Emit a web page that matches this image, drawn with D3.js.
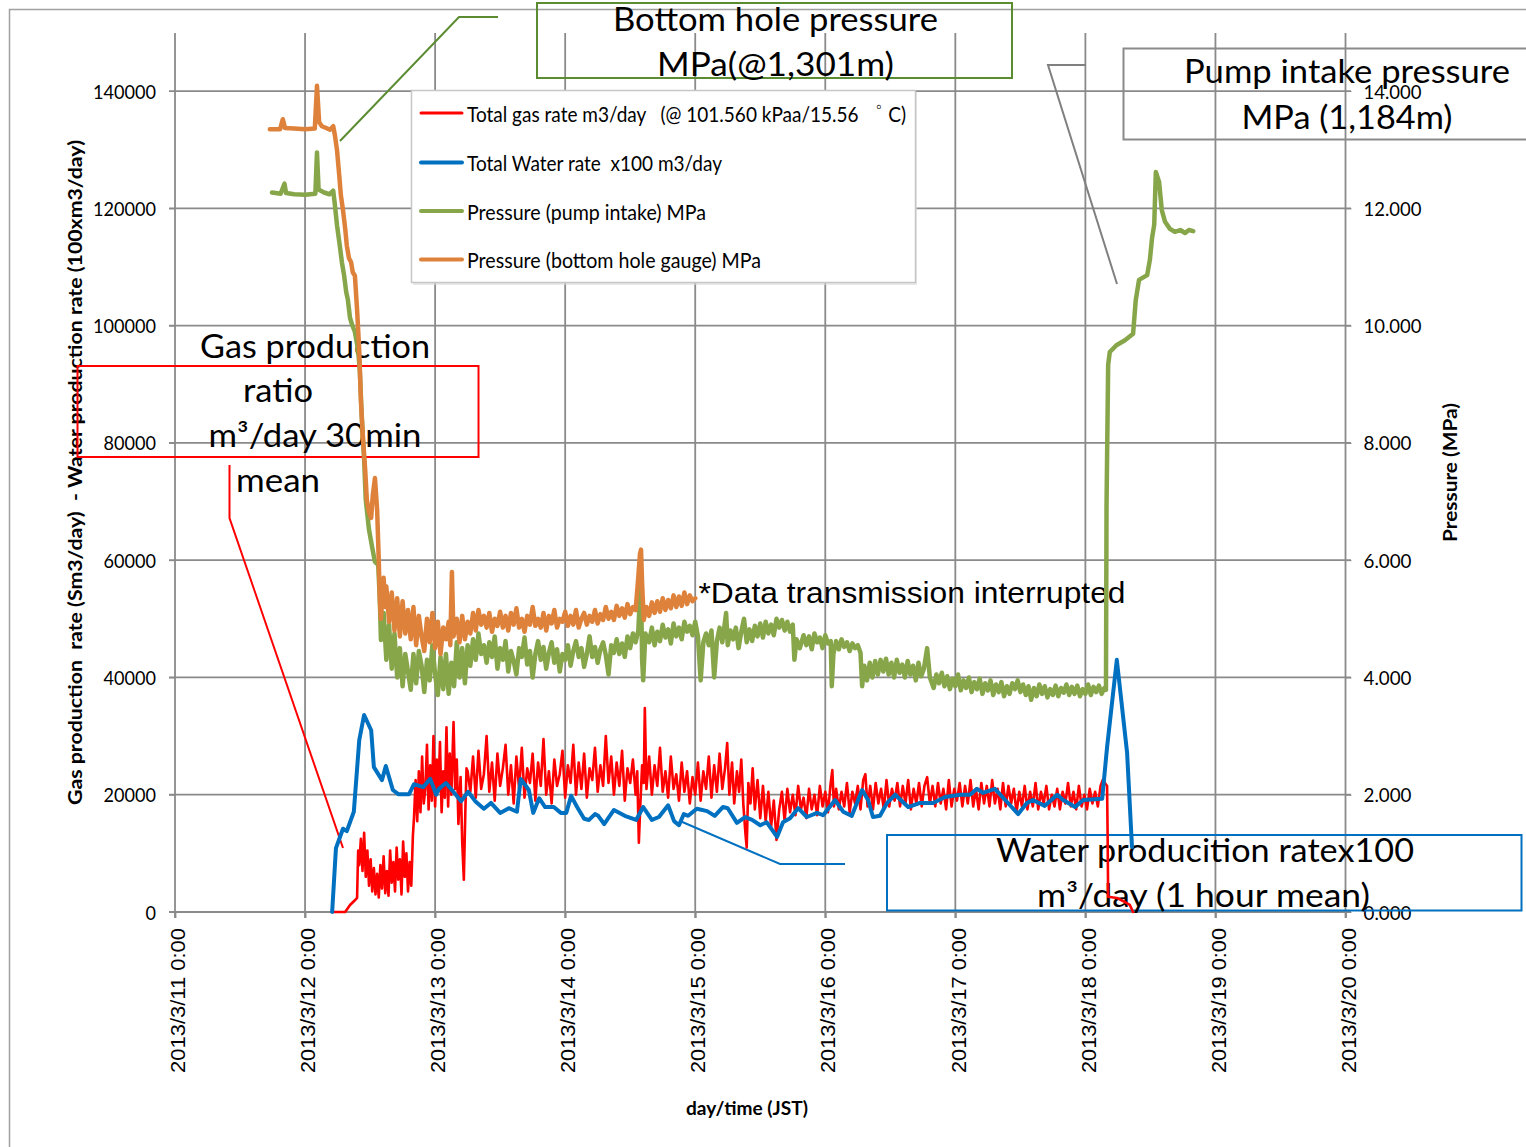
<!DOCTYPE html>
<html><head><meta charset="utf-8">
<script src="https://cdn.jsdelivr.net/npm/d3@7"></script>
<style>body{margin:0;background:#fff}svg{display:block}text{white-space:pre}</style>
</head><body>
<svg id="c" width="1526" height="1147"></svg>
<script>
// ---------- DATA ----------
const dayTickLabels = ["2013/3/11 0:00","2013/3/12 0:00","2013/3/13 0:00","2013/3/14 0:00","2013/3/15 0:00",
  "2013/3/16 0:00","2013/3/17 0:00","2013/3/18 0:00","2013/3/19 0:00","2013/3/20 0:00"];
const dayTickHours = [0,24,48,72,96,120,144,168,192,216];   // hours since 2013/3/11 0:00
const leftTicks = [0,20000,40000,60000,80000,100000,120000,140000];
const rightTicks = [0,2,4,6,8,10,12,14];

const seriesNames = [
  "Total gas rate m3/day   (@ 101.560 kPaa/15.56 \u309C C)",
  "Total Water rate  x100 m3/day",
  "Pressure (pump intake) MPa",
  "Pressure (bottom hole gauge) MPa"
];

// [hours since 3/11 0:00, m3/day]
const gasRate = [
[29.0,0],[31.4,0],[32.3,1200],[33.2,2000],[33.6,2400],[33.8,10500],
[34.0,8000],[34.3,12500],[34.6,7000],[34.9,13500],[35.2,6000],[35.5,10500],[35.8,4500],[36.1,9000],[36.4,3500],[36.7,7500],
[37.0,3000],[37.3,6500],[37.6,2500],[37.9,8000],[38.2,4000],[38.5,9500],[38.8,3200],[39.1,7000],[39.4,2800],[39.7,10500],
[40.0,5000],[40.3,8500],[40.6,3500],[40.9,11000],[41.2,5500],[41.5,9000],[41.8,3000],[42.1,12000],[42.4,6000],[42.7,10000],
[43.0,3500],[43.3,8500],[43.6,4500],[43.9,13000],
[44.1,16000],[44.4,22500],[44.7,15500],[45.0,24000],[45.3,17000],[45.6,26500],[45.9,18500],[46.2,21000],[46.5,28500],[46.8,17500],
[47.1,25000],[47.4,19000],[47.7,30000],[48.0,18000],[48.3,26000],[48.6,20500],[48.9,29000],[49.2,17000],[49.5,24000],[49.8,19500],
[50.1,31500],[50.4,18000],[50.7,27000],[51.0,20000],[51.4,32400],[51.7,21000],[52.0,26000],[52.3,15000],[52.7,23000],[53.0,12000],
[53.3,5500],[53.6,18000],[53.8,24500],
[54.0,24000],[54.5,20500],[55.0,26500],[55.5,19500],[56.0,27500],[56.5,21000],[57.0,23500],[57.5,30000],[58.0,20500],[58.5,25500],
[59.0,19000],[59.5,27000],[60.0,21500],[60.5,24500],[61.0,28500],[61.5,20000],[62.0,25000],[62.5,18500],[63.0,26500],[63.5,21000],
[64.0,28000],[64.5,19500],[65.0,24500],[65.5,22000],[66.0,27000],[66.5,19000],[67.0,25500],[67.5,21500],[68.0,29500],[68.5,20000],
[69.0,24000],[69.5,18500],[70.0,26000],[70.5,21500],[71.0,23500],[71.5,27500],[72.0,19500],[72.5,25000],[73.0,22000],[73.5,28500],
[74.0,20000],[74.5,25500],[75.0,21000],[75.5,27000],[76.0,19500],[76.5,24500],[77.0,22500],[77.5,28000],[78.0,20500],[78.5,25000],
[79.0,21500],[79.5,30000],[80.0,22000],[80.5,26500],[81.0,20000],[81.5,25500],[82.0,21500],[82.5,27500],[83.0,19000],[83.5,24500],
[84.0,22000],[84.5,26000],[85.0,20000],[85.3,24000],[85.6,11800],[85.9,19000],[86.2,25000],[86.5,22000],[86.7,34800],[87.0,21000],
[87.5,26500],[88.0,20000],[88.5,25000],[89.0,21500],[89.5,28000],[90.0,20500],[90.5,24000],[91.0,19500],[91.5,26500],[92.0,21000],
[92.5,23500],[93.0,19000],[93.5,25500],[94.0,20500],[94.5,24000],[95.0,18500],[95.5,23000],[96.0,20000],[96.5,25500],[97.0,19000],
[97.5,24000],[98.0,21000],[98.5,26500],[99.0,19500],[99.5,25000],[100.0,20500],[100.5,27000],[101.0,21000],[101.5,24500],[101.9,28800],
[102.3,20000],[102.8,25500],[103.2,18500],[103.7,24000],[104.1,20500],[104.5,26000],[104.9,18000],[105.3,13000],[105.5,11000],[105.8,22000],
[106.2,18500],[106.6,24500],[107.0,17500],[107.5,22500],[108.0,16000],[108.5,21500],[109.0,15500],[109.5,20500],[110.0,14500],[110.5,19000],
[111.0,12300],[111.5,17500],[112.0,20500],[112.5,15500],[113.0,21000],[113.5,17000],[114.0,20000],[114.5,16500],[115.0,21500],[115.5,17500],
[116.0,19500],[116.5,16000],[117.0,21000],[117.5,17500],[118.0,20000],[118.5,16500],[119.0,21500],[119.5,18000],[120.0,20500],[120.5,17000],
[121.0,22000],[121.3,24200],[121.6,18000],[122.0,21000],[122.5,17500],[123.0,20500],[123.5,18000],[124.0,22000],[124.5,17000],[125.0,20500],
[125.5,18500],[126.0,21500],[126.5,17500],[127.0,22500],[127.4,23500],[127.8,18000],[128.3,21500],[128.8,17500],[129.3,22000],[129.8,18500],
[130.3,21000],[130.8,17500],[131.3,22500],[131.8,18000],[132.3,21000],[132.8,19000],[133.3,22000],[133.8,18000],[134.3,21500],[134.8,18500],
[135.3,22500],[135.8,17500],[136.3,21000],[136.8,18500],[137.3,22000],[137.8,18000],[138.3,21500],[138.8,23000],[139.3,18500],[139.8,21500],
[140.3,18000],[140.8,22000],[141.3,18500],[141.8,21000],[142.3,17500],[142.8,22500],[143.3,18000],[143.8,21000],[144.3,19000],[144.8,22000],
[145.3,18000],[145.8,21500],[146.3,18500],[146.8,22500],[147.3,18000],[147.8,21000],[148.3,17500],[148.8,22000],[149.3,18500],[149.8,21500],
[150.3,18000],[150.8,22500],[151.3,18500],[151.8,21000],[152.3,17500],[152.8,22000],[153.3,18000],[153.8,21500],[154.3,18500],[154.8,21000],
[155.3,17000],[155.8,20500],[156.3,18000],[156.8,21500],[157.3,17500],[157.8,20500],[158.3,18000],[158.8,22000],[159.3,17500],[159.8,20500],
[160.3,18500],[160.8,21500],[161.3,17500],[161.8,20000],[162.3,18000],[162.8,21000],[163.3,17500],[163.8,20500],[164.3,18500],[164.8,22000],
[165.3,18000],[165.8,20500],[166.3,17500],[166.8,21500],[167.3,18000],[167.8,20000],[168.3,17500],[168.8,21000],[169.3,18500],[169.8,20500],
[170.3,18000],[170.8,21500],[171.2,22500],[172.0,21500],[172.1,13500],[172.2,2600],[173.8,2400],[175.3,1700],[176.2,1200],[176.8,0]
];

// [hours, x100 m3/day]
const waterRate = [
[29.0,0],[29.7,10900],[31.0,14200],[31.7,13800],[33.0,17100],[34.0,29300],[34.9,33600],[36.2,31000],[36.7,24700],[38.2,22500],
[38.9,24900],[40.2,20800],[41.2,20100],[43.2,20100],[44.1,21800],[45.8,21300],[47.1,22700],[48.2,20000],[48.7,21000],[50.0,22000],
[51.1,20800],[52.8,18900],[54.1,20500],[55.4,18900],[57.0,17600],[58.3,18600],[60.0,16900],[61.6,17700],[63.1,17100],[63.8,22700],
[65.3,20800],[66.1,16900],[67.2,19400],[68.3,17900],[69.9,17900],[71.2,16900],[72.2,16900],[73.1,19800],[74.2,17900],[75.5,15900],
[76.4,15700],[77.5,16700],[78.1,16400],[79.2,15000],[81.0,17400],[83.0,16400],[85.1,15700],[86.4,17900],[88.0,15700],[89.3,16200],
[91.0,18200],[92.1,15500],[93.0,14800],[93.9,16700],[94.7,16400],[96.0,17400],[96.3,17600],[98.2,17200],[99.6,16400],[101.1,17900],
[102.0,17700],[103.7,15200],[105.2,16200],[106.5,15700],[108.0,14800],[109.2,15300],[111.1,12800],[112.2,15300],[113.5,16000],[115.0,17700],
[116.6,16200],[118.5,16900],[119.6,16500],[121.8,19100],[123.3,17100],[124.9,16400],[126.8,20800],[127.9,19100],[128.8,16200],[130.1,16400],
[131.4,18600],[132.9,20000],[135.3,17900],[137.5,18600],[139.9,18600],[142.1,19600],[144.9,20000],[146.7,20000],[148.0,21000],[149.1,20300],
[151.3,21000],[153.2,19100],[155.6,16700],[157.2,18600],[158.3,19100],[160.5,18100],[162.8,20000],[163.9,19100],[166.1,17900],[167.6,19100],
[171.1,19300],[172.0,28100],[173.8,43000],[175.7,27100],[176.6,11100]
];

// [hours, MPa]
const pumpIntake = [
[17.9,12.27],[19.5,12.25],[20.2,12.42],[20.5,12.26],[22.0,12.24],[24.0,12.23],[25.9,12.25],[26.2,12.95],[26.5,12.32],[27.5,12.27],[28.5,12.24],[29.2,12.30],
[29.5,12.06],[29.9,11.71],[30.4,11.37],[30.8,11.08],[31.2,10.86],[31.6,10.57],[31.9,10.44],[32.3,10.13],[32.7,10.01],[33.2,9.89],[33.8,9.58],[34.1,9.24],
[34.5,8.39],[34.9,7.71],[35.2,7.03],[35.8,6.52],[36.4,6.21],[36.9,5.97],[37.5,5.92],[37.8,5.32],
[38.0,4.64],[38.5,5.10],[39.0,4.30],[39.5,4.90],[40.0,4.15],[40.5,4.75],[41.0,4.00],[41.5,4.50],[42.0,3.85],[42.5,4.40],[43.0,4.10],[43.5,3.79],
[44.0,4.40],[44.5,3.90],[45.0,4.45],[45.5,4.20],[46.0,3.75],[46.5,4.30],[47.0,3.95],[47.5,4.55],[48.0,4.05],[48.5,3.70],[49.0,4.35],[49.5,3.80],
[50.0,4.40],[50.5,3.72],[51.0,4.25],[51.5,3.85],[52.0,4.60],[52.5,4.00],[53.0,4.50],[53.5,3.90],[54.0,4.55],[54.5,4.20],[55.0,4.65],[55.5,4.30],
[56.0,4.75],[56.5,4.40],[57.0,4.55],[57.5,4.25],[58.0,4.60],[58.5,4.35],[59.0,4.70],[59.5,4.15],[60.0,4.50],[60.5,4.30],[61.0,4.62],[61.5,4.10],
[62.0,4.45],[62.5,4.28],[63.0,4.05],[63.5,4.50],[64.0,4.35],[64.5,4.68],[65.0,4.22],[65.5,4.45],[66.0,4.00],[66.5,4.40],[67.0,4.62],[67.5,4.30],
[68.0,4.52],[68.5,4.15],[69.0,4.42],[69.5,4.60],[70.0,4.25],[70.5,4.48],[71.0,4.10],[71.5,4.40],[72.0,4.30],[72.5,4.55],[73.0,4.20],[73.5,4.45],
[74.0,4.62],[74.5,4.35],[75.0,4.50],[75.5,4.18],[76.0,4.40],[76.5,4.70],[77.0,4.35],[77.5,4.52],[78.0,4.25],[78.5,4.48],[79.0,4.60],[79.5,4.38],
[80.0,4.05],[80.5,4.55],[81.0,4.42],[81.5,4.65],[82.0,4.40],[82.5,4.58],[83.0,4.35],[83.5,4.70],[84.0,4.50],[84.5,4.75],[85.0,4.60],[85.5,4.80],
[85.8,5.40],[86.0,5.55],[86.2,4.30],[86.4,3.95],[86.8,4.75],[87.5,4.60],[88.0,4.85],[88.5,4.55],[89.0,4.78],[89.5,4.62],[90.0,4.90],[90.5,4.68],
[91.0,4.82],[91.5,4.58],[92.0,4.92],[92.5,4.70],[93.0,4.85],[93.5,4.65],[94.0,4.95],[94.5,4.78],[95.0,4.88],[95.5,4.72],[96.0,4.95],
[96.5,4.70],[97.0,3.95],[97.5,4.60],[98.0,4.75],[98.5,4.55],[99.0,4.80],[99.5,4.00],[100.0,4.62],[100.5,4.85],[101.0,4.60],[101.7,5.10],[102.0,4.55],
[102.5,4.80],[103.0,4.65],[103.5,4.85],[104.0,4.50],[104.5,4.78],[105.0,5.00],[105.5,4.60],[106.0,4.82],[106.5,4.62],[107.0,4.88],[107.5,4.70],
[108.0,4.92],[108.5,4.68],[109.0,4.95],[109.5,4.75],[110.0,4.90],[110.5,4.72],[111.0,5.00],[111.5,4.85],[112.0,4.98],[112.5,4.80],[113.0,4.95],
[113.5,4.78],[114.0,4.90],[114.3,4.30],[114.7,4.65],[115.3,4.50],[116.0,4.72],[116.5,4.55],[117.0,4.70],[117.5,4.48],[118.0,4.75],[118.5,4.60],
[119.0,4.68],[119.5,4.50],[120.0,4.72],[120.5,4.58],[121.0,4.62],[121.2,3.85],[121.5,4.40],[122.0,4.62],[122.5,4.48],[123.0,4.65],[123.5,4.52],
[124.0,4.60],[124.5,4.45],[125.0,4.58],[125.5,4.50],[126.0,4.55],[126.5,4.42],[126.8,3.85],[127.2,4.20],[127.7,3.95],[128.2,4.25],[128.7,4.00],
[129.2,4.28],[129.7,4.05],[130.2,4.30],[130.7,4.10],[131.2,4.32],[131.7,4.05],[132.2,4.25],[132.7,4.00],[133.2,4.30],[133.7,4.08],[134.2,4.22],
[134.7,4.00],[135.2,4.28],[135.7,4.05],[136.2,4.20],[136.7,3.95],[137.2,4.25],[137.7,4.02],[138.2,4.15],[138.8,4.50],[139.3,4.00],[140.0,3.82],
[140.5,4.05],[141.0,3.90],[141.5,4.08],[142.0,3.85],[142.5,4.02],[143.0,3.80],[143.5,3.98],[144.0,3.85],[144.5,4.05],[145.0,3.78],[145.5,3.95],
[146.0,3.82],[146.5,4.00],[147.0,3.75],[147.5,3.92],[148.0,3.80],[148.5,3.98],[149.0,3.72],[149.5,3.90],[150.0,3.78],[150.5,3.95],[151.0,3.70],
[151.5,3.88],[152.0,3.75],[152.5,3.92],[153.0,3.68],[153.5,3.85],[154.0,3.72],[154.5,3.90],[155.0,3.80],[155.5,3.95],[156.0,3.75],[156.5,3.88],
[157.0,3.70],[157.5,3.85],[158.0,3.62],[158.5,3.82],[159.0,3.68],[159.5,3.88],[160.0,3.72],[160.5,3.85],[161.0,3.66],[161.5,3.80],[162.0,3.70],
[162.5,3.86],[163.0,3.68],[163.5,3.82],[164.0,3.74],[164.5,3.88],[165.0,3.70],[165.5,3.84],[166.0,3.72],[166.5,3.86],[167.0,3.68],[167.5,3.80],
[168.0,3.72],[168.5,3.88],[169.0,3.70],[169.5,3.84],[170.0,3.75],[170.5,3.86],[171.0,3.72],[171.5,3.82],[171.8,3.79],
[171.9,6.91],[172.2,9.33],[172.5,9.55],[173.8,9.67],[175.3,9.75],[176.8,9.86],[177.3,10.44],[177.9,10.78],[179.4,10.86],[179.9,11.12],
[180.3,11.49],[180.7,11.72],[181.0,12.62],[181.6,12.45],[182.1,11.97],[182.7,11.77],[183.6,11.65],[184.5,11.60],[185.5,11.63],[186.4,11.58],
[187.1,11.63],[187.9,11.61]
];

// [hours, MPa]
const bottomHole = [
[17.5,13.35],[19.4,13.35],[19.9,13.52],[20.3,13.37],[22.0,13.36],[24.0,13.35],[25.8,13.36],[26.2,14.09],[26.6,13.47],[27.1,13.40],[27.9,13.37],
[28.6,13.34],[29.2,13.40],
[29.5,13.25],[29.9,12.99],[30.3,12.57],[30.6,12.23],[31.0,11.97],[31.4,11.66],[31.7,11.37],[32.1,11.15],[32.5,11.08],[32.8,10.91],[33.2,10.85],
[33.6,10.27],[34.0,9.58],[34.3,8.73],[34.7,8.05],[35.1,7.54],[35.4,7.03],[35.8,6.82],[36.2,6.72],[36.5,7.11],[36.9,7.40],[37.3,6.86],[37.6,6.00],[37.8,5.32],
[38.0,5.00],[38.5,5.70],[38.8,5.20],[39.0,5.55],[39.5,4.95],[40.0,5.45],[40.5,4.80],[41.0,5.35],[41.5,4.70],[42.0,5.30],[42.5,4.75],[43.0,5.15],
[43.5,4.65],[44.0,5.20],[44.5,4.55],[45.0,5.05],[45.5,4.70],[46.0,4.45],[46.5,5.00],[47.0,4.60],[47.5,5.10],[48.0,4.50],[48.5,4.95],[49.0,4.40],
[49.5,4.85],[50.0,4.65],[50.5,4.95],[50.8,4.55],[51.1,5.80],[51.4,4.70],[52.0,5.00],[52.5,4.60],[53.0,5.05],[53.5,4.65],[54.0,4.95],[54.5,4.75],
[55.0,5.10],[55.5,4.80],[56.0,5.15],[56.5,4.90],[57.0,5.05],[57.5,4.85],[58.0,5.10],[58.5,4.78],[59.0,5.00],[59.5,4.88],[60.0,5.12],[60.5,4.85],
[61.0,5.05],[61.5,4.80],[62.0,5.10],[62.5,4.90],[63.0,5.18],[63.5,4.85],[64.0,5.00],[64.5,4.78],[65.0,5.05],[65.5,4.90],[66.0,5.20],[66.5,4.88],
[67.0,5.00],[67.5,4.85],[68.0,5.10],[68.5,4.80],[69.0,5.05],[69.5,4.92],[70.0,5.15],[70.5,4.85],[71.0,5.00],[71.5,4.95],[72.0,5.12],[72.5,4.88],
[73.0,5.05],[73.5,4.90],[74.0,5.15],[74.5,4.85],[75.0,5.00],[75.5,5.10],[76.0,4.90],[76.5,5.05],[77.0,4.95],[77.5,5.15],[78.0,4.92],[78.5,5.08],
[79.0,4.98],[79.5,5.20],[80.0,5.00],[80.5,5.12],[81.0,4.98],[81.5,5.22],[82.0,5.05],[82.5,5.18],[83.0,5.02],[83.5,5.25],[84.0,5.08],[84.5,5.20],
[85.0,5.15],[85.4,5.60],[85.8,6.10],[86.0,6.18],[86.2,5.60],[86.5,4.98],[87.0,5.20],[87.5,5.05],[88.0,5.28],[88.5,5.10],[89.0,5.30],[89.5,5.12],
[90.0,5.35],[90.5,5.15],[91.0,5.32],[91.5,5.18],[92.0,5.40],[92.5,5.20],[93.0,5.38],[93.5,5.22],[94.0,5.45],[94.5,5.25],[95.0,5.40],[95.5,5.30],[96.0,5.35]
];

// ---------- CHART ----------
const svg = d3.select("#c");
const FONT = "Lato, 'Open Sans', sans-serif";
const GRID = "#8a8a8a";
const C = {gas:"#ff0000", water:"#0070c0", pump:"#87a64a", bh:"#de823b"};

const x = d3.scaleLinear().domain([0,216]).range([175,1345.5]);
const yL = d3.scaleLinear().domain([0,150000]).range([912,32.4]);
const yR = d3.scaleLinear().domain([0,15]).range([912,32.4]);

// outer chart border
svg.append("rect").attr("x",9.5).attr("y",9.5).attr("width",1560).attr("height",1160)
  .attr("fill","none").attr("stroke","#a0a0a0").attr("stroke-width",1.5);

// gridlines
const grid = svg.append("g");
grid.selectAll("line.h").data(leftTicks).join("line")
  .attr("x1",169).attr("x2",1351).attr("y1",d=>yL(d)).attr("y2",d=>yL(d))
  .attr("stroke",GRID).attr("stroke-width",1.8);
grid.selectAll("line.v").data(dayTickHours).join("line")
  .attr("x1",d=>x(d)).attr("x2",d=>x(d)).attr("y1",33).attr("y2",918)
  .attr("stroke",GRID).attr("stroke-width",1.8);

// left axis labels
const axL = svg.append("g").attr("transform","translate(175,0)")
  .call(d3.axisLeft(yL).tickValues(leftTicks).tickSize(6).tickPadding(13).tickFormat(d3.format("d")));
axL.select(".domain").remove();
axL.selectAll("line").attr("stroke",GRID);
axL.selectAll("text").attr("font-family",FONT).attr("font-size",19.5).attr("fill","#000").attr("dy","0.36em")
  .attr("textLength",d=>d===0?10.5:(d<100000?52.5:63)).attr("lengthAdjust","spacingAndGlyphs");

// right axis labels
const axR = svg.append("g").attr("transform","translate(1345.5,0)")
  .call(d3.axisRight(yR).tickValues(rightTicks).tickSize(6).tickPadding(12).tickFormat(d3.format(".3f")));
axR.select(".domain").remove();
axR.selectAll("line").attr("stroke",GRID);
axR.selectAll("text").attr("font-family",FONT).attr("font-size",19.5).attr("fill","#000").attr("dy","0.36em")
  .attr("textLength",d=>d>=10?58:48).attr("lengthAdjust","spacingAndGlyphs");

// bottom axis (rotated labels)
const axB = svg.append("g").attr("transform","translate(0,912)")
  .call(d3.axisBottom(x).tickValues(dayTickHours).tickSize(6).tickFormat((d,i)=>dayTickLabels[i]));
axB.select(".domain").remove();
axB.selectAll("line").attr("stroke",GRID).attr("stroke-width",1.8);
axB.selectAll("text").attr("transform","rotate(-90)").attr("text-anchor","end")
  .attr("x",-16).attr("y",9.7).attr("dy",0)
  .attr("font-family","'Liberation Sans', Arial, sans-serif").attr("font-size",20).attr("fill","#000")
  .attr("textLength",145).attr("lengthAdjust","spacingAndGlyphs");

// axis titles
svg.append("text").attr("x",747).attr("y",1115).attr("text-anchor","middle")
  .attr("font-family",FONT).attr("font-weight","bold").attr("font-size",19)
  .attr("textLength",122).attr("lengthAdjust","spacingAndGlyphs").text("day/time (JST)");
svg.append("text").attr("transform","translate(82,472.5) rotate(-90)").attr("text-anchor","middle")
  .attr("font-family",FONT).attr("font-weight","bold").attr("font-size",18)
  .attr("textLength",665).attr("lengthAdjust","spacingAndGlyphs")
  .text("Gas production  rate (Sm3/day)  - Water production rate (100xm3/day)");
svg.append("text").attr("transform","translate(1457,472.5) rotate(-90)").attr("text-anchor","middle")
  .attr("font-family",FONT).attr("font-weight","bold").attr("font-size",18)
  .attr("textLength",139).attr("lengthAdjust","spacingAndGlyphs").text("Pressure (MPa)");

// ---------- annotations (drawn below series) ----------
const ann = svg.append("g");
function annText(tx, ty, str, w, size, fam){
  ann.append("text").attr("x",tx).attr("y",ty).attr("text-anchor","middle")
    .attr("font-family",fam||FONT).attr("font-size",size||32).attr("fill","#000")
    .attr("textLength",w).attr("lengthAdjust","spacingAndGlyphs").text(str);
}
// Bottom hole pressure
ann.append("rect").attr("x",537).attr("y",3).attr("width",475).attr("height",75)
  .attr("fill","none").attr("stroke","#5b8c32").attr("stroke-width",2);
ann.append("polyline").attr("points","340,141 459,17 498,17").attr("fill","none").attr("stroke","#5b8c32").attr("stroke-width",2);
annText(775.5,31,"Bottom hole pressure",325);
annText(775.5,76,"MPa(@1,301m)",237);
// Pump intake pressure
ann.append("rect").attr("x",1123.5).attr("y",48.5).attr("width",430).attr("height",91)
  .attr("fill","none").attr("stroke","#8a8a8a").attr("stroke-width",2);
ann.append("polyline").attr("points","1086,65 1048,65 1117,284").attr("fill","none").attr("stroke","#808080").attr("stroke-width",2);
annText(1347,83,"Pump intake pressure",326);
annText(1347,129,"MPa (1,184m)",211);
// Gas production ratio
ann.append("rect").attr("x",77.5).attr("y",366).attr("width",401).attr("height",91)
  .attr("fill","none").attr("stroke","#ff0000").attr("stroke-width",2);
ann.append("polyline").attr("points","229.5,465 229.5,518 343,848").attr("fill","none").attr("stroke","#ff0000").attr("stroke-width",2);
annText(315,358,"Gas production",230);
annText(278,402,"ratio",70);
annText(315,447,"m\u00B3/day 30min",213);
annText(278,492,"mean",84);
// Data transmission interrupted
annText(912,603,"*Data transmission interrupted",427,30,"'Liberation Sans', Arial, sans-serif");
// Water production
ann.append("rect").attr("x",887).attr("y",835).attr("width",634.5).attr("height",75.5)
  .attr("fill","none").attr("stroke","#0070c0").attr("stroke-width",2);
ann.append("polyline").attr("points","680,821 780,864 845,864").attr("fill","none").attr("stroke","#0070c0").attr("stroke-width",2);
annText(1205,862,"Water producition ratex100",418);
annText(1203.5,907,"m\u00B3/day (1 hour mean)",333);

// ---------- series ----------
const lineL = d3.line().x(d=>x(d[0])).y(d=>yL(d[1]));
const lineR = d3.line().x(d=>x(d[0])).y(d=>yR(d[1]));
const ser = svg.append("g").attr("fill","none").attr("stroke-linejoin","round").attr("stroke-linecap","round");
ser.append("path").attr("d",lineL(gasRate)).attr("stroke",C.gas).attr("stroke-width",2.6);
ser.append("path").attr("d",lineR(pumpIntake)).attr("stroke",C.pump).attr("stroke-width",4.5);
ser.append("path").attr("d",lineR(bottomHole)).attr("stroke",C.bh).attr("stroke-width",4.5);
ser.append("path").attr("d",lineL(waterRate)).attr("stroke",C.water).attr("stroke-width",4);

// ---------- legend ----------
const lg = svg.append("g");
lg.append("rect").attr("x",413).attr("y",92).attr("width",504).attr("height",193).attr("fill","#d9d9d9").attr("opacity",0.6);
lg.append("rect").attr("x",411.5).attr("y",90.5).attr("width",504).attr("height",192)
  .attr("fill","#fff").attr("stroke","#c6c6c6").attr("stroke-width",1.5);
const legColors = [C.gas,C.water,C.pump,C.bh];
const legW = [3,4,4,4];
const legY = [113,162.5,211,259.5];
const legTL = [439,255,239,294];
seriesNames.forEach((n,i)=>{
  lg.append("line").attr("x1",421).attr("x2",462).attr("y1",legY[i]).attr("y2",legY[i])
    .attr("stroke",legColors[i]).attr("stroke-width",legW[i]).attr("stroke-linecap","round");
  lg.append("text").attr("x",467).attr("y",legY[i]+8.5).attr("font-family",FONT).attr("font-size",21)
    .attr("fill","#000").attr("textLength",legTL[i]).attr("lengthAdjust","spacingAndGlyphs").text(n);
});
</script>
</body></html>
